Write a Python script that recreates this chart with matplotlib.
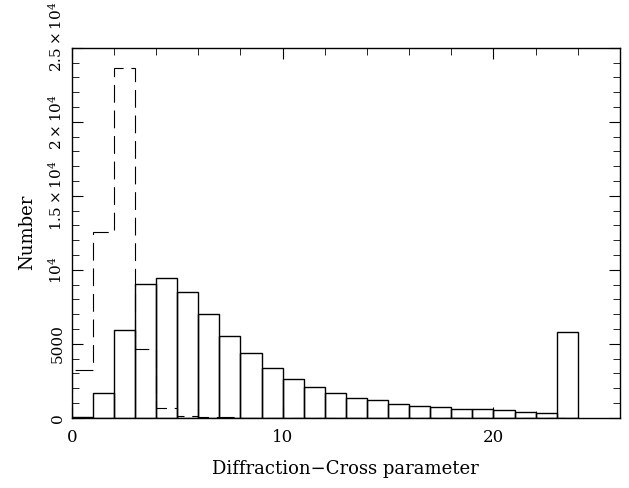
import numpy as np
import matplotlib
matplotlib.use("Agg")
import matplotlib.pyplot as plt
import matplotlib.transforms as mtransforms

plt.rcParams['font.family'] = 'DejaVu Serif'
plt.rcParams['mathtext.fontset'] = 'dejavuserif'

# bin edges 0..24, width 1
edges = np.arange(0, 25)
solid_counts = [30, 1690, 5950, 9010, 9440, 8510, 7010, 5520, 4350, 3340,
                2640, 2060, 1650, 1330, 1200, 950, 810, 700, 570, 590,
                500, 405, 340, 5770]
dashed_counts = [3220, 12570, 23650, 4620, 635, 135, 60, 20, 10, 5,
                 0, 0, 0, 0, 0, 0, 0, 0, 0, 0,
                 0, 0, 0, 0]

yticks = [0, 5000, 10000, 15000, 20000, 25000]
ytick_labels = ['0', '5000', r'$10^4$', r'$1.5\times10^4$', r'$2\times10^4$', r'$2.5\times10^4$']

fig = plt.figure(figsize=(6.29, 4.88), dpi=100)
ax = fig.add_axes([0.114, 0.144, 0.8717, 0.758])

ax.bar(edges[:-1], solid_counts, width=1, align='edge', fill=False,
       edgecolor='black', linewidth=1.0)
ax.stairs(dashed_counts, edges, color='black', linewidth=0.8,
          linestyle=(0, (16, 7)))

ax.set_xlim(0, 26)
ax.set_ylim(0, 25000)
ax.set_xticks([0, 10, 20])
ax.set_xticks(np.arange(0, 27, 2), minor=True)
ax.set_yticks(yticks)
ax.set_yticklabels(ytick_labels, rotation=90, va='center')
ax.set_yticks(np.arange(0, 25001, 1000), minor=True)
ax.tick_params(which='both', direction='in', top=True, right=True)
ax.tick_params(which='major', length=8)
ax.tick_params(axis='x', labelsize=12, pad=8)
ax.tick_params(axis='y', labelsize=11, pad=5)
ax.tick_params(which='minor', length=5)

# the top label sits above the frame in the original
top_lab = ax.get_yticklabels()[-1]
top_lab.set_transform(top_lab.get_transform() +
                      mtransforms.ScaledTranslation(0, 11 / 100, fig.dpi_scale_trans))

for s in ax.spines.values():
    s.set_linewidth(1.0)

ax.set_xlabel('Diffraction\u2212Cross parameter', fontsize=13, labelpad=10)
ax.set_ylabel('Number', fontsize=13, labelpad=8)

plt.savefig('out.png', dpi=100)
